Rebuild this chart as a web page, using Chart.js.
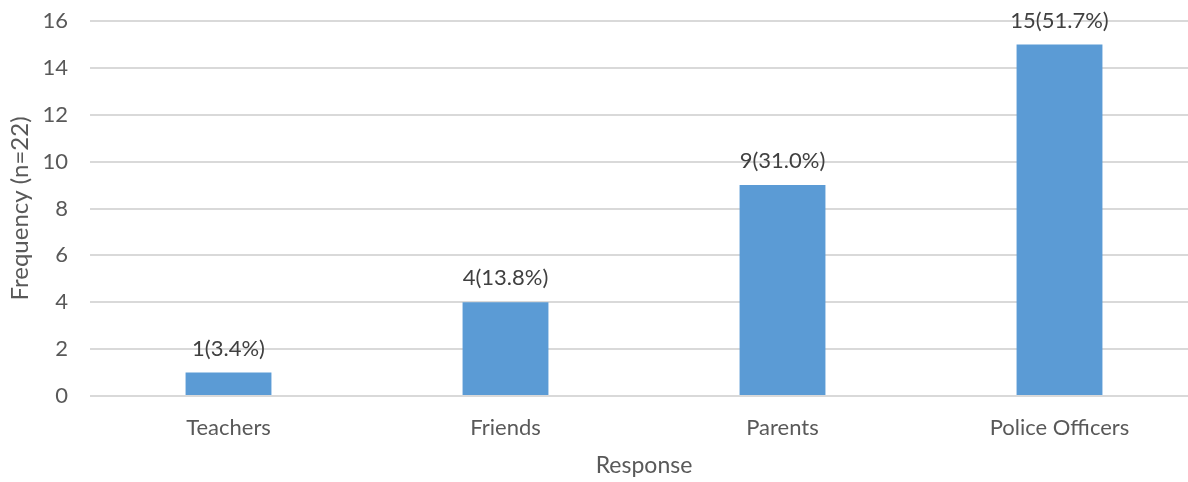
<!DOCTYPE html>
<html>
<head>
<meta charset="utf-8">
<script src="https://cdn.jsdelivr.net/npm/chart.js@4/dist/chart.umd.min.js"></script>
<style>
html,body{margin:0;padding:0;overflow:hidden;background:#fff;width:1188px;height:482px;}
canvas{display:block;}
</style>
</head>
<body>
<canvas id="c" width="1200" height="482" style="width:1200px;height:482px"></canvas>
<script>
const categories = ["Teachers", "Friends", "Parents", "Police Officers"];
const frequencies = [1, 4, 9, 15];
const percentages = ["3.4%", "13.8%", "31.0%", "51.7%"];
const yTicks = [0, 2, 4, 6, 8, 10, 12, 14, 16];

const FONT = "Lato, 'Open Sans', sans-serif";
const TXT = "#595959";

const labelPlugin = {
  id: "barLabels",
  afterDatasetsDraw(chart) {
    const ctx = chart.ctx;
    const meta = chart.getDatasetMeta(0);
    ctx.save();
    ctx.font = "22px " + FONT;
    ctx.fillStyle = "#404040";
    ctx.textAlign = "center";
    ctx.textBaseline = "bottom";
    meta.data.forEach((bar, i) => {
      ctx.fillText(frequencies[i] + "(" + percentages[i] + ")", bar.x, bar.y - 13);
    });
    ctx.restore();
  }
};

new Chart(document.getElementById("c"), {
  type: "bar",
  data: {
    labels: categories,
    datasets: [{
      data: frequencies,
      backgroundColor: "#5B9BD5",
      borderWidth: 0,
      categoryPercentage: 1.0,
      barPercentage: 0.31
    }]
  },
  options: {
    responsive: false,
    animation: false,
    layout: { padding: { top: 21, left: 0, right: 2, bottom: 0 } },
    plugins: { legend: { display: false }, tooltip: { enabled: false } },
    scales: {
      x: {
        grid: { display: false },
        border: { display: false },
        ticks: { color: TXT, font: { family: FONT, size: 22 }, padding: 11 },
        title: { display: true, text: "Response", color: TXT, font: { family: FONT, size: 23 }, padding: { top: 7, bottom: 3 } },
        afterFit(s) { s.height = 86; s.paddingLeft = 0; s.paddingRight = 0; }
      },
      y: {
        min: 0, max: 16,
        afterBuildTicks(s) { s.ticks = yTicks.map(v => ({ value: v })); },
        grid: { color: "#D9D9D9", lineWidth: 2, drawTicks: false },
        border: { display: false },
        ticks: { color: TXT, font: { family: FONT, size: 22 }, padding: 22 },
        title: { display: true, text: "Frequency (n=22)", color: TXT, font: { family: FONT, size: 24 }, padding: { top: 6, bottom: 4 } },
        afterFit(s) { s.width = 90; s.paddingTop = 0; s.paddingBottom = 0; }
      }
    }
  },
  plugins: [labelPlugin]
});
</script>
</body>
</html>
